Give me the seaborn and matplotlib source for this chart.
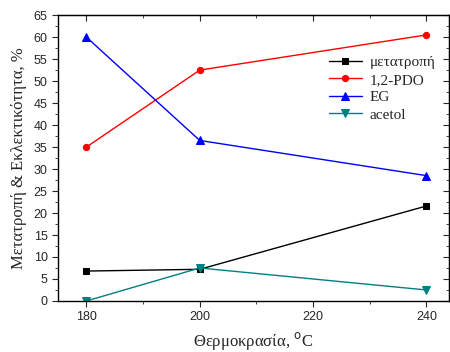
import matplotlib
matplotlib.use("Agg")
import matplotlib.pyplot as plt
import seaborn as sns
import pandas as pd
from matplotlib.ticker import MultipleLocator

sns.set_style("ticks")
plt.rcParams['font.family'] = ['Liberation Sans', 'DejaVu Sans']

temps = [180, 200, 240]
conversion = [6.8, 7.2, 21.6]
pdo = [35.0, 52.5, 60.5]
eg = [60.0, 36.5, 28.5]
acetol = [0.0, 7.5, 2.5]

series_names = ["μετατροπή", "1,2-PDO", "EG", "acetol"]
series_vals = [conversion, pdo, eg, acetol]
colors = ["#000000", "#ff0000", "#0000ff", "#008080"]
markers = ["s", "o", "^", "v"]
msizes = [3.8, 4.5, 5.5, 5.5]

fig = plt.figure(figsize=(4.5, 3.52), dpi=100)
ax = fig.add_axes([0.129, 0.145, 0.869, 0.812])

for name, vals, c, m, ms in zip(series_names, series_vals, colors, markers, msizes):
    df = pd.DataFrame({"T": temps, "v": vals})
    sns.lineplot(data=df, x="T", y="v", ax=ax, color=c, marker=m, markersize=ms,
                 markeredgecolor=c, linewidth=1.0, label=name)

ax.set_xlim(175, 244)
ax.set_ylim(0, 65)
ax.xaxis.set_major_locator(MultipleLocator(20))
ax.xaxis.set_minor_locator(MultipleLocator(10))
ax.yaxis.set_major_locator(MultipleLocator(5))
ax.yaxis.set_minor_locator(MultipleLocator(2.5))
ax.tick_params(which='both', direction='out', labelsize=9, top=False, right=False)
ax.tick_params(which='major', length=4)
ax.tick_params(which='minor', length=2)
sec_top = ax.secondary_xaxis('top')
sec_top.xaxis.set_major_locator(MultipleLocator(20))
sec_top.xaxis.set_minor_locator(MultipleLocator(10))
sec_top.tick_params(which='both', direction='in', labeltop=False)
sec_top.tick_params(which='major', length=4)
sec_top.tick_params(which='minor', length=2)
sec_r = ax.secondary_yaxis('right')
sec_r.yaxis.set_major_locator(MultipleLocator(5))
sec_r.yaxis.set_minor_locator(MultipleLocator(2.5))
sec_r.tick_params(which='both', direction='in', labelright=False)
sec_r.tick_params(which='major', length=4)
sec_r.tick_params(which='minor', length=2)
for s in ax.spines.values():
    s.set_linewidth(1.0)
    s.set_color("black")

serif = ['Liberation Serif', 'DejaVu Serif']
ax.set_xlabel("Θερμοκρασία, $^{\\mathrm{o}}$C", family=serif, fontsize=12, labelpad=5)
ax.set_ylabel("Μετατροπή & Εκλεκτικότητα, %", family=serif, fontsize=12, labelpad=5)

leg = ax.legend(loc='upper left', bbox_to_anchor=(0.676, 0.88), frameon=False,
                prop={'family': serif, 'size': 11}, handlelength=2.2,
                borderaxespad=0, labelspacing=0.25, handletextpad=0.5)

fig.savefig("out.png", dpi=100)
